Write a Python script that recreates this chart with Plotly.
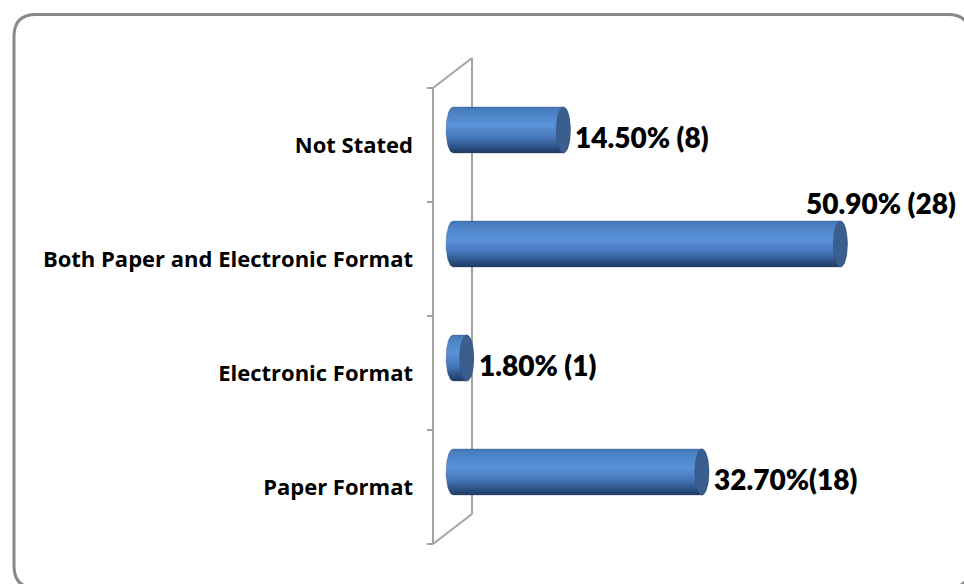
import numpy as np
import plotly.graph_objects as go

# ---------------- data ----------------
categories = ["Paper Format", "Electronic Format", "Both Paper and Electronic Format", "Not Stated"]
percent = [32.7, 1.8, 50.9, 14.5]
counts = [18, 1, 28, 8]
label_text = ["32.70%(18)", "1.80% (1)", "50.90% (28)", "14.50% (8)"]

# ---------------- geometry / style ----------------
W, H = 964, 584
ML, MR, MT, MB = 414, 0, 0, 0
PX_PER_X = 7.61          # pixels per percentage point
PX_PER_Y = 114.0         # pixels per category slot
X0_PIX = 453             # pixel of value 0 (bar axis)
Y0_PIX = 487             # pixel of first category (front plane)

x_range = [-(X0_PIX - ML) / PX_PER_X, (W - MR - X0_PIX) / PX_PER_X]
y_range = [-(H - MB - Y0_PIX) / PX_PER_Y, (Y0_PIX - MT) / PX_PER_Y]

def px_x(dpx):
    return dpx / PX_PER_X

def px_y(dpx):
    return dpx / PX_PER_Y

# 3D wall geometry (front plane at wall_front, back plane shifted by depth)
wall_front = px_x(433 - X0_PIX)
depth_dx = px_x(39)
depth_dy = px_y(30)
bar_shift = depth_dy / 2          # bars sit mid-depth
half_h = px_y(23)
rx = px_x(7)

wall_col = "#a3a3a3"
cap_col = "#3a5f8e"
grad = [[0.0, "#1f3a5e"], [0.12, "#2b5184"], [0.35, "#4879bd"],
        [0.6, "#5a92d8"], [0.85, "#4e85c8"], [1.0, "#4376b6"]]

fig = go.Figure()

# wall
n = len(categories)
yb0, yb1 = -0.5, n - 0.5
wall_x = [wall_front, wall_front, None,
          wall_front + depth_dx, wall_front + depth_dx, None,
          wall_front, wall_front + depth_dx, None,
          wall_front, wall_front + depth_dx]
wall_y = [yb0, yb1, None,
          yb0 + depth_dy, yb1 + depth_dy, None,
          yb1, yb1 + depth_dy, None,
          yb0, yb0 + depth_dy]
for b in np.arange(yb0, yb1 + 0.01, 1.0):
    wall_x += [None, wall_front - px_x(6), wall_front]
    wall_y += [None, b, b]
fig.add_trace(go.Scatter(x=wall_x, y=wall_y, mode="lines",
                         line=dict(color=wall_col, width=2),
                         hoverinfo="skip", showlegend=False))

# cylinders
t_left = np.linspace(np.pi / 2, 3 * np.pi / 2, 40)
t_right = np.linspace(-np.pi / 2, np.pi / 2, 40)
t_full = np.linspace(0, 2 * np.pi, 80)
for i, v in enumerate(percent):
    yc = i + bar_shift
    bx = list(rx * np.cos(t_left)) + list(v + rx * np.cos(t_right))
    by = list(yc + half_h * np.sin(t_left)) + list(yc + half_h * np.sin(t_right))
    bx.append(bx[0]); by.append(by[0])
    fig.add_trace(go.Scatter(x=bx, y=by, mode="lines", fill="toself",
                             fillgradient=dict(type="vertical", colorscale=grad),
                             line=dict(color="rgba(40,70,110,0.5)", width=0.6),
                             hoverinfo="skip", showlegend=False))
    fig.add_trace(go.Scatter(x=list(v + rx * np.cos(t_full)),
                             y=list(yc + half_h * np.sin(t_full)),
                             mode="lines", fill="toself", fillcolor=cap_col,
                             line=dict(color="#2f5079", width=0.6),
                             hoverinfo="skip", showlegend=False))

# data labels
label_font = dict(family="Lato", size=28, color="black", weight=800)
right_limit = px_x(958 - X0_PIX)
approx_char = 13.6
for i, (v, txt) in enumerate(zip(percent, label_text)):
    yc = i + bar_shift
    start = v + rx + px_x(3)
    if start + px_x(len(txt) * approx_char) > right_limit:
        fig.add_annotation(x=right_limit, y=yc + px_y(41), text=txt, showarrow=False,
                           xanchor="right", yanchor="middle", font=label_font)
    else:
        fig.add_annotation(x=start, y=yc - px_y(7), text=txt, showarrow=False,
                           xanchor="left", yanchor="middle", font=label_font)

# rounded frame (paper coords)
pw = W - ML - MR
ph = H - MT - MB
def fx(p):
    return (p - ML) / pw
def fy(p):
    return (H - MB - p) / ph
L, T, R, B, r = 14, 14.5, 970, 588, 22
path = (f"M {fx(L + r)},{fy(T)} L {fx(R - r)},{fy(T)} Q {fx(R)},{fy(T)} {fx(R)},{fy(T + r)} "
        f"L {fx(R)},{fy(B - r)} Q {fx(R)},{fy(B)} {fx(R - r)},{fy(B)} "
        f"L {fx(L + r)},{fy(B)} Q {fx(L)},{fy(B)} {fx(L)},{fy(B - r)} "
        f"L {fx(L)},{fy(T + r)} Q {fx(L)},{fy(T)} {fx(L + r)},{fy(T)} Z")
fig.add_shape(type="path", path=path, xref="paper", yref="paper",
              line=dict(color="#898989", width=3), layer="below")

fig.update_layout(
    width=W, height=H,
    margin=dict(l=ML, r=MR, t=MT, b=MB),
    paper_bgcolor="white", plot_bgcolor="rgba(0,0,0,0)",
    showlegend=False,
    xaxis=dict(range=x_range, visible=False, fixedrange=True),
    yaxis=dict(range=y_range, tickvals=list(range(n)), ticktext=categories,
               showgrid=False, zeroline=False, showline=False, ticks="",
               tickfont=dict(family="Open Sans", size=22, color="black", weight="bold"),
               fixedrange=True),
)

fig.write_html("out.html", config={"displayModeBar": False},
               post_script="document.body.style.margin='0';document.body.style.overflow='hidden';")
